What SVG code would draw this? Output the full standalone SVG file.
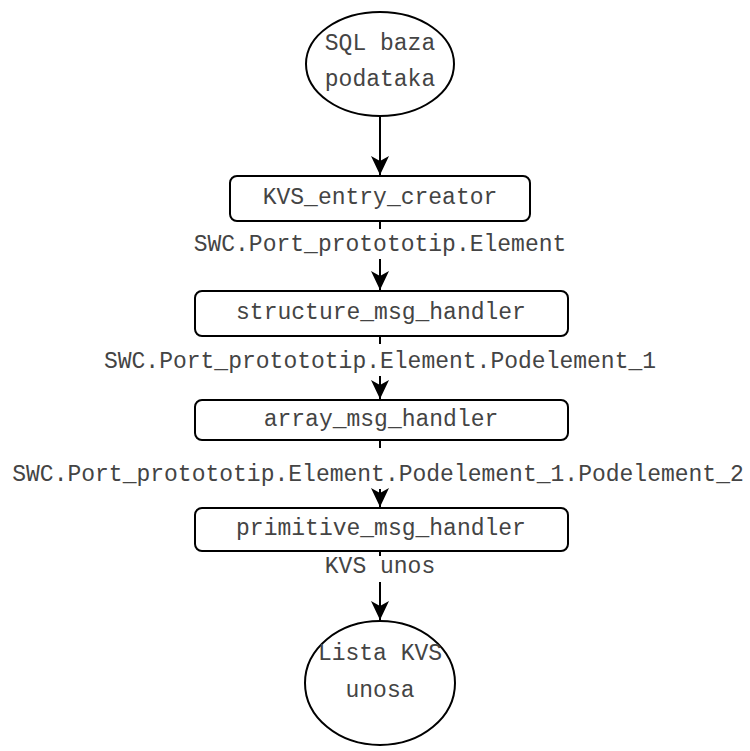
<svg xmlns="http://www.w3.org/2000/svg" width="750" height="751" viewBox="0 0 750 751">
<defs>
<marker id="arr" markerWidth="22" markerHeight="22" refX="20" refY="11" orient="auto" markerUnits="userSpaceOnUse">
<path d="M1,2 L20,11 L1,20 L6,11 Z" fill="#000"/>
</marker>
<style>
.n{fill:#fff;stroke:#000;stroke-width:2}
.t{font-family:"Liberation Mono","Courier New",monospace;font-size:23px;fill:#444;text-anchor:middle;dominant-baseline:central}
.c{stroke:#000;stroke-width:2;fill:none}
</style>
</defs>
<rect width="750" height="751" fill="#fff"/>
<g id="connectors">
<line class="c" x1="380" y1="116" x2="380" y2="175" marker-end="url(#arr)"/>
<line class="c" x1="380" y1="221" x2="380" y2="229"/>
<text class="t" x="380" y="245">SWC.Port_protototip.Element</text>
<line class="c" x1="380" y1="259" x2="380" y2="290" marker-end="url(#arr)"/>
<line class="c" x1="380" y1="336" x2="380" y2="344"/>
<text class="t" x="380" y="362">SWC.Port_protototip.Element.Podelement_1</text>
<line class="c" x1="380" y1="376" x2="380" y2="399" marker-end="url(#arr)"/>
<line class="c" x1="380" y1="440" x2="380" y2="448"/>
<text class="t" x="378" y="475">SWC.Port_protototip.Element.Podelement_1.Podelement_2</text>
<line class="c" x1="380" y1="489" x2="380" y2="507" marker-end="url(#arr)"/>
<line class="c" x1="380" y1="551" x2="380" y2="556"/>
<text class="t" x="380" y="567">KVS unos</text>
<line class="c" x1="380" y1="582" x2="380" y2="620" marker-end="url(#arr)"/>
</g>
<g id="sql_baza">
<ellipse class="n" cx="380" cy="64" rx="74" ry="52"/>
<text class="t" x="380" y="44">SQL baza</text>
<text class="t" x="380" y="80">podataka</text>
</g>
<g id="kvs_entry_creator">
<rect class="n" x="230" y="176" width="300" height="45" rx="7"/>
<text class="t" x="380" y="198">KVS_entry_creator</text>
</g>
<g id="structure_msg_handler">
<rect class="n" x="195" y="291" width="373" height="45" rx="7"/>
<text class="t" x="381" y="313">structure_msg_handler</text>
</g>
<g id="array_msg_handler">
<rect class="n" x="195" y="400" width="373" height="40" rx="7"/>
<text class="t" x="381" y="420">array_msg_handler</text>
</g>
<g id="primitive_msg_handler">
<rect class="n" x="195" y="508" width="373" height="43" rx="7"/>
<text class="t" x="381" y="529">primitive_msg_handler</text>
</g>
<g id="lista_kvs_unosa">
<ellipse class="n" cx="380" cy="683" rx="75" ry="62"/>
<text class="t" x="380" y="654">Lista KVS</text>
<text class="t" x="380" y="691">unosa</text>
</g>
</svg>
